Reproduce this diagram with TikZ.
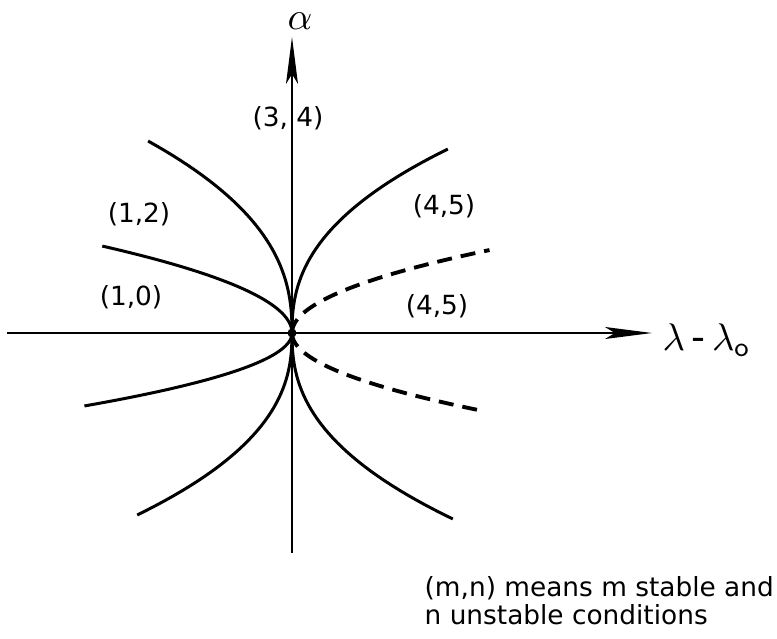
\documentclass[tikz,border=0pt]{standalone}
\usepackage{amsmath}
\usepackage{fontspec}
\setmainfont{DejaVu Sans}
\usepackage{tikz}
\usetikzlibrary{arrows.meta}

\begin{document}
\begin{tikzpicture}[
    branch/.style={line width=0.85pt},
    dashbranch/.style={line width=1.1pt, dash pattern=on 1.5mm off 0.9mm},
    axis/.style={line width=0.6pt, -{Stealth[length=4.7mm,width=1.2mm,inset=1mm]}},
    region/.style={font=\fontsize{7.5}{8}\selectfont, inner sep=0pt}
]
    \useasboundingbox (-2.92,-3.05) rectangle (4.85,3.33);
    \coordinate (O) at (0,0);
    \coordinate (xstart) at (-2.85,0);
    \coordinate (xtip) at (3.60,0);
    \coordinate (ystart) at (0,-2.20);
    \coordinate (ytip) at (0,2.96);
    \draw[axis] (xstart) -- (xtip);
    \draw[axis] (ystart) -- (ytip);
    \node[font=\fontsize{11}{13}\selectfont, inner sep=0pt, anchor=west] (xlab) at (3.70,-0.07) {$\lambda$\,-\,$\lambda_{\mathsf o}$};
    \node[font=\fontsize{11}{13}\selectfont, inner sep=0pt] (alab) at (0.08,3.12) {$\alpha$};
    % steep branches
    \draw[branch] plot[domain=0:1.92, samples=40] ({-0.301*pow(\x,2.4)},\x);
    \draw[branch] plot[domain=0:1.84, samples=40] ({0.361*pow(\x,2.4)},\x);
    \draw[branch] plot[domain=0:1.82, samples=40] ({-0.368*pow(\x,2.4)},-\x);
    \draw[branch] plot[domain=0:1.86, samples=40] ({0.363*pow(\x,2.4)},-\x);
    % flat branches
    \draw[branch] plot[domain=0:0.87, samples=40] ({-2.51*\x*\x},\x);
    \draw[branch] plot[domain=0:0.73, samples=40] ({-3.9*\x*\x},-\x);
    \draw[dashbranch] plot[domain=0:0.83, samples=40] ({2.87*\x*\x},\x);
    \draw[dashbranch] plot[domain=0:0.78, samples=40] ({3.14*\x*\x},-\x);
    \fill (O) circle (0.045);
    % regions
    \node[region] (r34) at (-0.04,2.15) {(3, 4)};
    \node[region] (r12) at (-1.53,1.19) {(1,2)};
    \node[region] (r10) at (-1.61,0.36) {(1,0)};
    \node[region] (r45a) at (1.52,1.27) {(4,5)};
    \node[region] (r45b) at (1.45,0.27) {(4,5)};
    \node[region, align=left, anchor=west] (legend) at (1.32,-2.68)
        {(m,n) means m stable and\\n unstable conditions};
\end{tikzpicture}
\end{document}
